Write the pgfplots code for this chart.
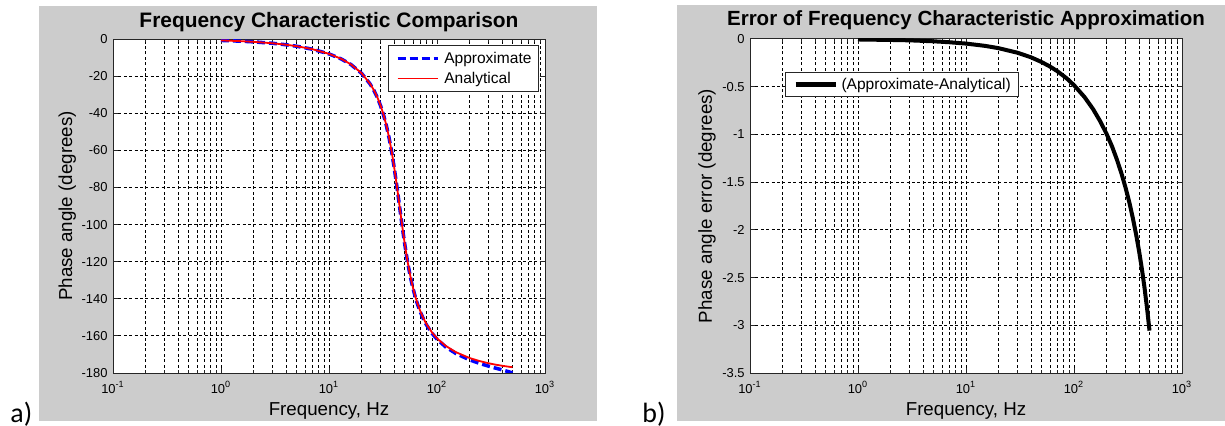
\documentclass[border=0pt]{standalone}
\usepackage{pgfplots}
\pgfplotsset{compat=1.18}
\usepackage{fontspec}
\setmainfont{Liberation Sans}
\newfontfamily\calibri{Carlito}
\definecolor{figgray}{RGB}{204,204,204}
\definecolor{axcol}{RGB}{38,38,38}
\definecolor{mblue}{RGB}{0,0,255}
\definecolor{mred}{RGB}{255,0,0}

\begin{document}
\begin{tikzpicture}
\useasboundingbox (0,0) rectangle (612.5bp,213bp);
\fill[white] (0,0) rectangle (612.5bp,213bp);
\fill[figgray] (19.5bp,2.5bp) rectangle (298.5bp,210bp);
\fill[figgray] (338.5bp,2.5bp) rectangle (612.5bp,210.5bp);
\node[anchor=base west, inner sep=0pt, font=\calibri\fontsize{14}{16}\selectfont] at (5bp,2bp) {a)};
\node[anchor=base west, inner sep=0pt, font=\calibri\fontsize{14}{16}\selectfont] at (321bp,2bp) {b)};

\begin{axis}[
  xmode=log, scale only axis, width=216bp, height=167bp,
  xmin=0.1, xmax=1000,
  xtick={0.1,1,10,100,1000},
  xticklabels={10\textsuperscript{-1},10\textsuperscript{0},10\textsuperscript{1},10\textsuperscript{2},10\textsuperscript{3}},
  minor xtick={0.2,0.3,0.4,0.5,0.6,0.7,0.8,0.9,2,3,4,5,6,7,8,9,20,30,40,50,60,70,80,90,200,300,400,500,600,700,800,900},
  xmajorgrids, xminorgrids, ymajorgrids,
  major grid style={black, line width=0.5bp, dash pattern=on 1.5bp off 1.2bp},
  minor grid style={black, line width=0.5bp, dash pattern=on 1.5bp off 1.2bp},
  axis background/.style={fill=white},
  axis line style={axcol, line width=0.5bp},
  every tick/.style={axcol, line width=0.5bp},
  tick align=inside,
  xtick pos=both, ytick pos=both,
  xticklabel pos=lower, yticklabel pos=left,
  major tick length=2.5bp, minor tick length=1.5bp,
  ticklabel style={font=\fontsize{6.5}{7}\selectfont, text=black},
  xticklabel style={anchor=base, yshift=-10bp, inner sep=0pt},
  yticklabel style={anchor=east, inner sep=0pt, xshift=-2.5bp},
  label style={font=\fontsize{9.4}{11}\selectfont},
  xlabel style={at={(axis description cs:0.5,0)}, anchor=base, yshift=-21bp},
  title style={font=\bfseries\fontsize{10.5}{12}\selectfont, at={(axis description cs:0.5,1)}, anchor=base},
  legend cell align=left,
  legend image code/.code={\draw[#1] (0bp,0bp) -- (20bp,0bp);},
  at={(56.5bp,26.5bp)}, anchor=south west,
  ymin=-180, ymax=0,
  ytick={-180,-160,-140,-120,-100,-80,-60,-40,-20,0},
  yticklabels={-180,-160,-140,-120,-100,-80,-60,-40,-20,0},
  title={Frequency Characteristic Comparison},
  xlabel={Frequency, Hz},
  ylabel={Phase angle (degrees)},
  ylabel style={at={(axis description cs:-0.0949,0.5)}, anchor=base},
  legend style={at={(axis description cs:1,1)}, anchor=north east, xshift=-3bp, yshift=-3bp,
    draw=axcol, line width=0.5bp, fill=white, font=\fontsize{7.8}{9}\selectfont,
    inner xsep=3.5bp, inner ysep=2.1bp, row sep=1.2bp,
    nodes={inner sep=0pt, text height=7bp, text depth=1.8bp},
    /tikz/every odd column/.append style={column sep=2.5bp}},
]
\addplot[mblue, line width=1.75bp, dash pattern=on 4bp off 2bp] coordinates {
(1,-0.77) (1.5,-1.16) (2,-1.54) (3,-2.31) (4,-3.10) (5,-3.88) (7,-5.49) (10,-8.03)
(13,-10.77) (16,-13.80) (20,-18.48) (24,-24.22) (26,-27.62) (28,-31.48) (30,-35.89)
(32,-40.95) (34,-46.73) (36,-53.30) (38,-60.66) (40,-68.71) (42,-77.24) (43,-81.59)
(44,-85.93) (45,-90.22) (46,-94.41) (47,-98.48) (48,-102.38) (50,-109.62) (52,-116.06)
(54,-121.69) (56,-126.58) (58,-130.81) (60,-134.48) (63,-139.11) (66,-142.92) (70,-147.02)
(75,-151.00) (80,-154.11) (90,-158.64) (100,-161.78) (120,-165.91) (150,-169.54)
(200,-172.90) (250,-174.90) (300,-176.30) (350,-177.39) (400,-178.31) (450,-179.14) (500,-179.94)
};
\addlegendentry{Approximate}
\addplot[mred, line width=0.9bp] coordinates {
(1,-0.76) (1.5,-1.15) (2,-1.53) (3,-2.30) (4,-3.08) (5,-3.86) (7,-5.46) (10,-7.98)
(13,-10.71) (16,-13.72) (20,-18.38) (24,-24.10) (26,-27.49) (28,-31.35) (30,-35.75)
(32,-40.80) (34,-46.57) (36,-53.13) (38,-60.48) (40,-68.52) (42,-77.04) (43,-81.38)
(44,-85.72) (45,-90.00) (46,-94.19) (47,-98.25) (48,-102.15) (50,-109.38) (52,-115.81)
(54,-121.43) (56,-126.31) (58,-130.53) (60,-134.19) (63,-138.81) (66,-142.60) (70,-146.68)
(75,-150.64) (80,-153.72) (90,-158.20) (100,-161.30) (120,-165.33) (150,-168.81)
(200,-171.91) (250,-173.63) (300,-174.74) (350,-175.52) (400,-176.09) (450,-176.53) (500,-176.88)
};
\addlegendentry{Analytical}
\end{axis}

\begin{axis}[
  xmode=log, scale only axis, width=216bp, height=167bp,
  xmin=0.1, xmax=1000,
  xtick={0.1,1,10,100,1000},
  xticklabels={10\textsuperscript{-1},10\textsuperscript{0},10\textsuperscript{1},10\textsuperscript{2},10\textsuperscript{3}},
  minor xtick={0.2,0.3,0.4,0.5,0.6,0.7,0.8,0.9,2,3,4,5,6,7,8,9,20,30,40,50,60,70,80,90,200,300,400,500,600,700,800,900},
  xmajorgrids, xminorgrids, ymajorgrids,
  major grid style={black, line width=0.5bp, dash pattern=on 1.5bp off 1.2bp},
  minor grid style={black, line width=0.5bp, dash pattern=on 1.5bp off 1.2bp},
  axis background/.style={fill=white},
  axis line style={axcol, line width=0.5bp},
  every tick/.style={axcol, line width=0.5bp},
  tick align=inside,
  xtick pos=both, ytick pos=both,
  xticklabel pos=lower, yticklabel pos=left,
  major tick length=2.5bp, minor tick length=1.5bp,
  ticklabel style={font=\fontsize{6.5}{7}\selectfont, text=black},
  xticklabel style={anchor=base, yshift=-10bp, inner sep=0pt},
  yticklabel style={anchor=east, inner sep=0pt, xshift=-2.5bp},
  label style={font=\fontsize{9.4}{11}\selectfont},
  xlabel style={at={(axis description cs:0.5,0)}, anchor=base, yshift=-21bp},
  title style={font=\bfseries\fontsize{10.3}{12}\selectfont, at={(axis description cs:0.5,1)}, anchor=base, yshift=1bp},
  legend cell align=left,
  legend image code/.code={\draw[#1] (0bp,0bp) -- (20bp,0bp);},
  at={(375bp,26.5bp)}, anchor=south west,
  ymin=-3.5, ymax=0,
  ytick={-3.5,-3,-2.5,-2,-1.5,-1,-0.5,0},
  yticklabels={-3.5,-3,-2.5,-2,-1.5,-1,-0.5,0},
  title={Error of Frequency Characteristic Approximation},
  xlabel={Frequency, Hz},
  ylabel={Phase angle error (degrees)},
  ylabel style={at={(axis description cs:-0.088,0.5)}, anchor=base},
  legend style={at={(axis description cs:0,1)}, anchor=north west, xshift=17.5bp, yshift=-16.5bp,
    draw=axcol, line width=0.5bp, fill=white, font=\fontsize{7.8}{9}\selectfont,
    inner xsep=4bp, inner ysep=1.6bp,
    nodes={inner sep=0pt, text height=7bp, text depth=1.8bp},
    /tikz/every odd column/.append style={column sep=2bp}},
]
\addplot[black, line width=2bp] coordinates {
(1,-0.005) (2,-0.010) (3,-0.014) (5,-0.024) (7,-0.034) (10,-0.048) (15,-0.072) (20,-0.096)
(30,-0.144) (40,-0.192) (50,-0.241) (60,-0.289) (70,-0.337) (85,-0.410) (100,-0.484)
(125,-0.608) (150,-0.734) (175,-0.863) (200,-0.993) (225,-1.126) (250,-1.266)
(275,-1.409) (300,-1.557) (325,-1.710) (350,-1.873) (375,-2.042) (400,-2.220)
(425,-2.409) (450,-2.610) (475,-2.825) (500,-3.056)
};
\addlegendentry{(Approximate-Analytical)}
\end{axis}
\end{tikzpicture}
\end{document}
